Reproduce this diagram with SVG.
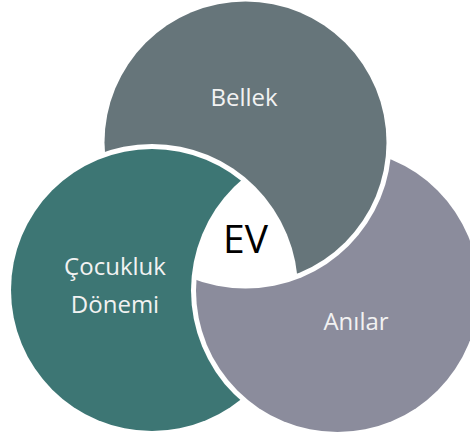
<svg xmlns="http://www.w3.org/2000/svg" width="470" height="435" viewBox="0 0 470 435">
  <style>
    .lbl { font-family: "Open Sans", "Liberation Sans", sans-serif; font-size: 24px; fill: #f2f2f2; text-anchor: middle; }
    .center { font-family: "Open Sans", "Liberation Sans", sans-serif; font-size: 39px; fill: #000; text-anchor: middle; }
  </style>
  <defs>
    <mask id="cutL" maskUnits="userSpaceOnUse" x="0" y="0" width="470" height="435">
      <rect width="470" height="435" fill="#fff"/>
      <circle cx="152" cy="290" r="146" fill="#000"/>
    </mask>
    <mask id="cutR" maskUnits="userSpaceOnUse" x="0" y="0" width="470" height="435">
      <rect width="470" height="435" fill="#fff"/>
      <circle cx="337.5" cy="290.5" r="146.5" fill="#000"/>
    </mask>
    <mask id="cutT" maskUnits="userSpaceOnUse" x="0" y="0" width="470" height="435">
      <rect width="470" height="435" fill="#fff"/>
      <circle cx="245.5" cy="142.5" r="146" fill="#000"/>
    </mask>
  </defs>
  <rect width="470" height="435" fill="#fff"/>
  <g id="bellek">
    <circle cx="245.5" cy="142.5" r="141" fill="#66757a" mask="url(#cutL)"/>
    <text class="lbl" x="244" y="106">Bellek</text>
  </g>
  <g id="cocukluk-donemi">
    <circle cx="152" cy="290" r="141" fill="#3d7674" mask="url(#cutR)"/>
    <text class="lbl" x="115" y="275">Çocukluk</text>
    <text class="lbl" x="115" y="313">Dönemi</text>
  </g>
  <g id="anilar">
    <circle cx="337.5" cy="290.5" r="141.5" fill="#8b8c9c" mask="url(#cutT)"/>
    <text class="lbl" x="356" y="330">Anılar</text>
  </g>
  <g id="ev">
    <text class="center" x="245.5" y="253">EV</text>
  </g>
  <g id="connectors"/>
</svg>
